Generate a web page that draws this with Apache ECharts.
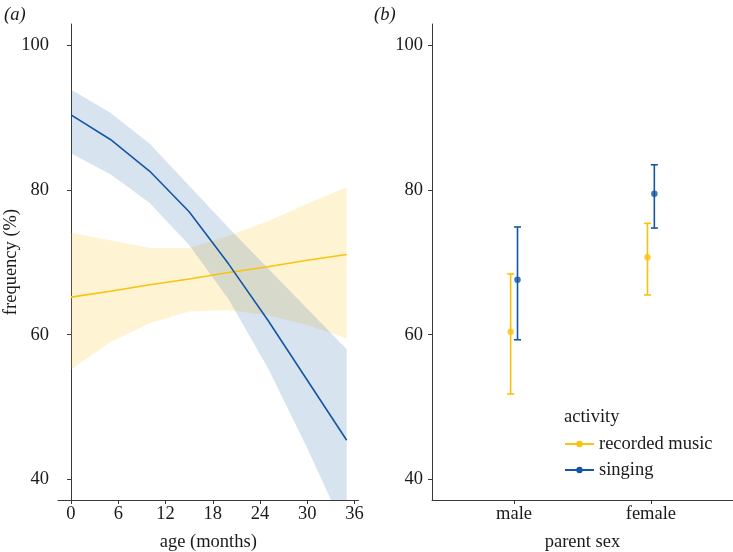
<!DOCTYPE html>
<html>
<head>
<meta charset="utf-8">
<script src="https://cdn.jsdelivr.net/npm/echarts@6/dist/echarts.min.js"></script>
<style>html,body{margin:0;padding:0;background:#fff;}#c{width:733px;height:552px;}</style>
</head>
<body>
<div id="c"></div>
<script>
// ---- data (panel a) ----
const ages = [0, 5, 10, 15, 20, 25, 30, 35];
const singingFit   = [90.4, 87.0, 82.6, 77.0, 69.8, 62.0, 53.7, 45.4];
const singingUpper = [93.9, 90.7, 86.4, 80.6, 74.8, 69.2, 63.6, 58.0];
const singingLower = [85.1, 82.2, 78.2, 72.4, 64.9, 55.4, 44.3, 32.4];
const recordedFit   = [65.2, 66.0, 66.9, 67.7, 68.6, 69.4, 70.3, 71.1];
const recordedUpper = [74.1, 73.05, 72.0, 72.0, 73.7, 75.7, 78.1, 80.4];
const recordedLower = [55.2, 59.0, 61.6, 63.2, 63.4, 62.7, 61.3, 59.5];
const ageTicks = [0, 6, 12, 18, 24, 30, 36];
const freqTicks = [40, 60, 80, 100];

// ---- data (panel b) ----
const sexes = ['male', 'female'];
const recMean = [60.4, 70.7];
const recLow  = [51.8, 65.5];
const recHigh = [68.4, 75.4];
const singMean = [67.6, 79.5];
const singLow  = [59.3, 74.75];
const singHigh = [74.9, 83.5];

const BLUE = '#1356a6';
const YELLOW = '#f9c20d';
const FONT = '"Liberation Serif", "DejaVu Serif", serif';
const FS = 18.5;
const DODGE = 0.025;

const pairs = (xs, ys) => xs.map((x, i) => [x, ys[i]]);

const axisLineStyle = { lineStyle: { color: '#3a3a3a', width: 1 } };
const tickStyle = { length: 4, lineStyle: { color: '#3a3a3a', width: 1 } };
const labelStyle = { color: '#1a1a1a', fontFamily: FONT, fontSize: FS };

function ribbon(lower, upper, color) {
  return {
    type: 'custom', xAxisIndex: 0, yAxisIndex: 0, z: 1, silent: true, clip: true,
    data: ages.map((a, i) => [a, lower[i], upper[i]]),
    renderItem: function (params, api) {
      if (params.dataIndex !== 0) return null;
      const pts = [];
      for (let i = 0; i < ages.length; i++) pts.push(api.coord([ages[i], upper[i]]));
      for (let i = ages.length - 1; i >= 0; i--) pts.push(api.coord([ages[i], lower[i]]));
      const cs = params.coordSys;
      return {
        type: 'polygon', shape: { points: pts }, style: { fill: color },
        clipPath: { type: 'rect', shape: { x: cs.x, y: cs.y, width: cs.width, height: cs.height } }
      };
    }
  };
}

function errorBars(lows, highs, offset, color) {
  return {
    type: 'custom', xAxisIndex: 1, yAxisIndex: 1, z: 3,
    data: sexes.map((s, i) => [i + 1 + offset, lows[i], highs[i]]),
    renderItem: function (params, api) {
      const x = api.value(0);
      const p1 = api.coord([x, api.value(1)]);
      const p2 = api.coord([x, api.value(2)]);
      const hw = 3.5;
      const st = { stroke: color, lineWidth: 1.6 };
      return { type: 'group', children: [
        { type: 'line', shape: { x1: p1[0], y1: p1[1], x2: p2[0], y2: p2[1] }, style: st },
        { type: 'line', shape: { x1: p1[0] - hw, y1: p1[1], x2: p1[0] + hw, y2: p1[1] }, style: st },
        { type: 'line', shape: { x1: p2[0] - hw, y1: p2[1], x2: p2[0] + hw, y2: p2[1] }, style: st }
      ]};
    }
  };
}

const chart = echarts.init(document.getElementById('c'), null, { renderer: 'canvas' });
chart.setOption({
  animation: false,
  backgroundColor: '#ffffff',
  title: [
    { text: '(a)', left: -1, top: 1, textStyle: { fontFamily: FONT, fontStyle: 'italic', fontWeight: 'normal', fontSize: FS, color: '#1a1a1a' } },
    { text: '(b)', left: 369, top: 1, textStyle: { fontFamily: FONT, fontStyle: 'italic', fontWeight: 'normal', fontSize: FS, color: '#1a1a1a' } },
    { text: 'activity', left: 559, top: 403, textStyle: { fontFamily: FONT, fontWeight: 'normal', fontSize: FS, color: '#1a1a1a' } }
  ],
  graphic: [
    { type: 'text', x: 11, y: 262, rotation: Math.PI / 2,
      style: { text: 'frequency (%)', fill: '#1a1a1a', font: FS + 'px ' + FONT, align: 'center', verticalAlign: 'middle' } }
  ],
  legend: {
    data: ['recorded music', 'singing'],
    orient: 'vertical', left: 559, top: 429,
    itemWidth: 29, itemHeight: 8, itemGap: 6,
    textStyle: { fontFamily: FONT, fontSize: FS, color: '#1a1a1a', lineHeight: 20 }
  },
  grid: [
    { left: 58, top: 24, width: 300.5, height: 476, outerBoundsMode: 'none', containLabel: false },
    { left: 432, top: 24, right: 0, height: 476, outerBoundsMode: 'none', containLabel: false }
  ],
  xAxis: [
    { type: 'value', gridIndex: 0, min: -1.65, max: 36.5,
      name: 'age (months)', nameLocation: 'middle', nameGap: 33,
      nameTextStyle: { fontFamily: FONT, fontSize: FS, color: '#1a1a1a' },
      axisLine: axisLineStyle, axisTick: Object.assign({ customValues: ageTicks }, tickStyle),
      axisLabel: Object.assign({ customValues: ageTicks, margin: 5 }, labelStyle),
      splitLine: { show: false } },
    { type: 'value', gridIndex: 1, min: 0.4, max: 2.6,
      name: 'parent sex', nameLocation: 'middle', nameGap: 33,
      nameTextStyle: { fontFamily: FONT, fontSize: FS, color: '#1a1a1a' },
      axisLine: axisLineStyle, axisTick: Object.assign({ customValues: [1, 2] }, tickStyle),
      axisLabel: Object.assign({ customValues: [1, 2], margin: 5, formatter: v => sexes[Math.round(v) - 1] }, labelStyle),
      splitLine: { show: false } }
  ],
  yAxis: [
    { type: 'value', gridIndex: 0, min: 37.14, max: 102.97,
      axisLine: { show: true, lineStyle: { color: '#3a3a3a', width: 1 } },
      axisTick: Object.assign({ show: true, customValues: freqTicks }, tickStyle),
      axisLabel: Object.assign({ customValues: freqTicks, margin: 9 }, labelStyle),
      splitLine: { show: false } },
    { type: 'value', gridIndex: 1, min: 37.14, max: 102.97,
      axisLine: { show: true, lineStyle: { color: '#3a3a3a', width: 1 } },
      axisTick: Object.assign({ show: true, customValues: freqTicks }, tickStyle),
      axisLabel: Object.assign({ customValues: freqTicks, margin: 9 }, labelStyle),
      splitLine: { show: false } }
  ],
  series: [
    ribbon(recordedLower, recordedUpper, 'rgba(252,194,12,0.18)'),
    ribbon(singingLower, singingUpper, 'rgba(22,86,168,0.17)'),
    { type: 'line', xAxisIndex: 0, yAxisIndex: 0, data: pairs(ages, recordedFit), symbol: 'none',
      lineStyle: { color: YELLOW, width: 1.6 }, z: 2, clip: true },
    { type: 'line', xAxisIndex: 0, yAxisIndex: 0, data: pairs(ages, singingFit), symbol: 'none',
      lineStyle: { color: BLUE, width: 1.6 }, z: 2, clip: true },
    errorBars(recLow, recHigh, -DODGE, YELLOW),
    errorBars(singLow, singHigh, DODGE, BLUE),
    { type: 'scatter', xAxisIndex: 1, yAxisIndex: 1, z: 4, symbolSize: 6.5,
      data: sexes.map((s, i) => [i + 1 - DODGE, recMean[i]]), itemStyle: { color: YELLOW } },
    { type: 'scatter', xAxisIndex: 1, yAxisIndex: 1, z: 4, symbolSize: 6.5,
      data: sexes.map((s, i) => [i + 1 + DODGE, singMean[i]]), itemStyle: { color: BLUE } },
    { name: 'recorded music', type: 'line', xAxisIndex: 1, yAxisIndex: 1, data: [],
      symbol: 'circle', symbolSize: 6, itemStyle: { color: YELLOW }, lineStyle: { color: YELLOW, width: 1.6 } },
    { name: 'singing', type: 'line', xAxisIndex: 1, yAxisIndex: 1, data: [],
      symbol: 'circle', symbolSize: 6, itemStyle: { color: BLUE }, lineStyle: { color: BLUE, width: 1.6 } }
  ]
});
</script>
</body>
</html>
